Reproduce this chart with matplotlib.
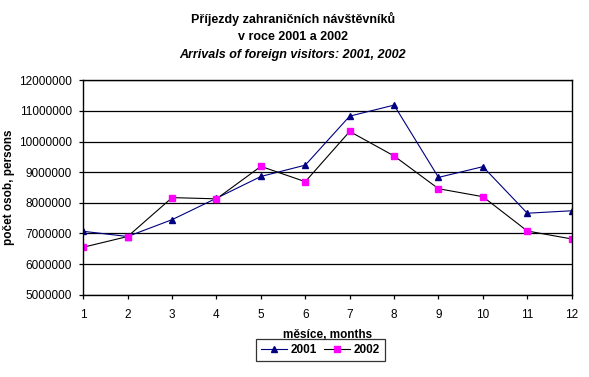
import matplotlib
matplotlib.use('Agg')
import matplotlib.pyplot as plt

plt.rcParams['font.family'] = ['Liberation Sans', 'DejaVu Sans']

months = [1, 2, 3, 4, 5, 6, 7, 8, 9, 10, 11, 12]
arrivals_2001 = [7070000, 6900000, 7450000, 8150000, 8860000, 9230000,
                 10830000, 11190000, 8830000, 9180000, 7660000, 7740000]
arrivals_2002 = [6550000, 6900000, 8170000, 8130000, 9190000, 8690000,
                 10330000, 9530000, 8460000, 8200000, 7080000, 6820000]
yticks = [5000000, 6000000, 7000000, 8000000, 9000000, 10000000, 11000000, 12000000]

fig = plt.figure(figsize=(5.89, 3.77), dpi=100)
ax = fig.add_axes([0.1414, 0.2183, 0.8292, 0.5687])

ax.plot(months, arrivals_2001, color='#000080', lw=0.8, marker='^',
        markersize=5, markerfacecolor='#000080', markeredgecolor='#000080', label='2001')
ax.plot(months, arrivals_2002, color='black', lw=0.8, marker='s',
        markersize=5, markerfacecolor='#ff00ff', markeredgecolor='#ff00ff', label='2002')

ax.set_xlim(1, 12)
ax.set_ylim(5000000, 12000000)
ax.set_xticks(months)
ax.set_yticks(yticks)
ax.set_yticklabels([str(v) for v in yticks])
ax.yaxis.grid(True, color='black', lw=0.9)
ax.set_axisbelow(True)
ax.tick_params(labelsize=8.5, length=3, width=0.9)
ax.tick_params(axis='x', pad=7)
ax.tick_params(axis='y', pad=5)
for s in ax.spines.values():
    s.set_linewidth(1.0)

ax.set_xlabel('měsíce, months', fontsize=8.5, fontweight='bold', labelpad=6)
ax.set_ylabel('počet osob, persons', fontsize=8.5, fontweight='bold', labelpad=3)

fig.text(0.497, 0.950, 'Příjezdy zahraničních návštěvníků', ha='center', va='center',
         fontsize=9, fontweight='bold')
fig.text(0.497, 0.901, 'v roce 2001 a 2002', ha='center', va='center',
         fontsize=9, fontweight='bold')
fig.text(0.497, 0.853, 'Arrivals of foreign visitors: 2001, 2002', ha='center', va='center',
         fontsize=9, fontweight='bold', style='italic')

leg = fig.legend(loc='center', bbox_to_anchor=(0.544, 0.072), ncol=2,
                 frameon=True, fancybox=False, edgecolor='black', handlelength=2.2,
                 handletextpad=0.3, columnspacing=0.6, borderpad=0.4, markerscale=0.9,
                 prop={'weight': 'bold', 'size': 8.5})
leg.get_frame().set_linewidth(0.9)

fig.savefig('out.png', dpi=100)
